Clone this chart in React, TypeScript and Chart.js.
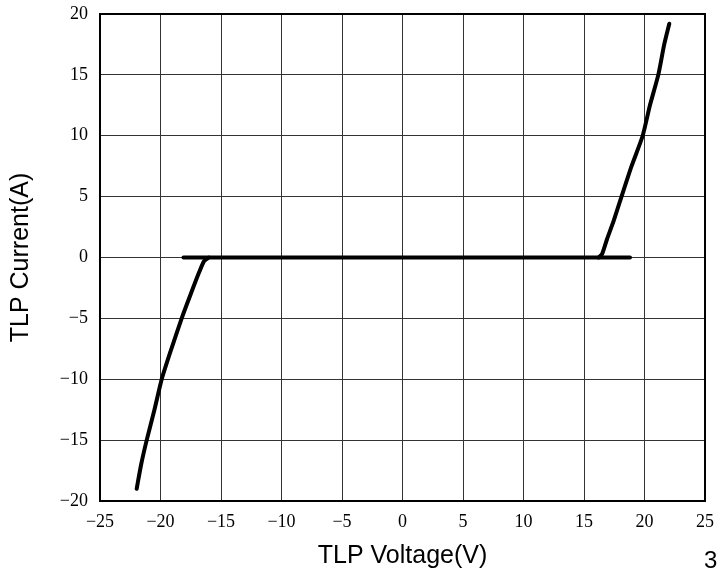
import React, { useEffect, useRef } from "react";
import { Chart, registerables } from "chart.js";

Chart.register(...registerables);

// Flat leakage segment (V, A)
const flatV = [-18.1, -16.0, 0, 16.2, 18.8];
const flatI = [0, 0, 0, 0, 0];

// Negative breakdown branch
const negV = [-16.0, -16.4, -16.8, -17.5, -18.25, -19.1, -19.9, -20.5, -21.14, -21.6, -21.97];
const negI = [0, -0.3, -1.2, -3, -5, -7.5, -10, -12.5, -15, -17, -19];

// Positive breakdown branch
const posV = [16.2, 16.5, 16.9, 17.45, 18.1, 18.93, 19.85, 20.45, 21.14, 21.63, 22.05];
const posI = [0, 0.3, 1.5, 3, 5, 7.5, 10, 12.5, 15, 17.5, 19.2];

const xTitle = "TLP Voltage(V)";
const yTitle = "TLP Current(A)";
const cornerText = "3";

const toPts = (xs: number[], ys: number[]) => xs.map((x, i) => ({ x, y: ys[i] }));
const fmt = (v: number | string) => String(v).replace("-", "\u2212");

const frame = {
  id: "frame",
  afterDraw(chart: any) {
    const { ctx, chartArea: a } = chart;
    ctx.save();
    ctx.strokeStyle = "#000";
    ctx.lineWidth = 2;
    ctx.strokeRect(a.left, a.top, a.right - a.left, a.bottom - a.top);
    ctx.restore();
  },
};

export default function App() {
  const ref = useRef<HTMLCanvasElement>(null);
  useEffect(() => {
    if (!ref.current) return;
    const ds = (xs: number[], ys: number[]) => ({
      data: toPts(xs, ys),
      showLine: true,
      borderColor: "#000",
      backgroundColor: "#000",
      borderWidth: 4,
      pointRadius: 0,
      tension: 0.2,
      borderCapStyle: "round" as const,
      borderJoinStyle: "round" as const,
    });
    const chart = new Chart(ref.current, {
      type: "scatter",
      data: {
        datasets: [ds(flatV, flatI), ds(negV, negI), ds(posV, posI)],
      },
      options: {
        animation: false,
        responsive: false,
        devicePixelRatio: 1,
        layout: { padding: { left: 0, right: 13, top: 14, bottom: 0 } },
        plugins: { legend: { display: false }, tooltip: { enabled: false } },
        scales: {
          x: {
            type: "linear",
            min: -25,
            max: 25,
            afterFit: (s: any) => {
              s.height = 70;
              s.paddingLeft = 0;
              s.paddingRight = 0;
            },
            ticks: {
              stepSize: 5,
              padding: 10,
              color: "#000",
              font: { family: "'Liberation Serif', serif", size: 18 },
              callback: (v: any) => fmt(v),
            },
            grid: { color: "#333", lineWidth: 1, drawTicks: false },
            border: { display: true, color: "#000", width: 2 },
            title: {
              display: true,
              text: xTitle,
              color: "#000",
              font: { family: "'Liberation Sans', Arial, sans-serif", size: 25 },
              padding: { top: 0, bottom: 0 },
            },
          },
          y: {
            type: "linear",
            min: -20,
            max: 20,
            afterFit: (s: any) => {
              s.width = 100;
              s.paddingTop = 0;
              s.paddingBottom = 0;
            },
            ticks: {
              stepSize: 5,
              padding: 12,
              color: "#000",
              font: { family: "'Liberation Serif', serif", size: 18 },
              callback: (v: any) => fmt(v),
            },
            grid: { color: "#333", lineWidth: 1, drawTicks: false },
            border: { display: true, color: "#000", width: 2 },
            title: {
              display: true,
              text: yTitle,
              color: "#000",
              font: { family: "'Liberation Sans', Arial, sans-serif", size: 25 },
              padding: { top: 6, bottom: 0 },
            },
          },
        },
      },
      plugins: [frame],
    });
    return () => chart.destroy();
  }, []);

  return (
    <div style={{ position: "fixed", left: 0, top: 0, width: 718, height: 571, overflow: "hidden", background: "#fff" }}>
      <canvas ref={ref} width={718} height={571} style={{ display: "block" }} />
      <div
        style={{
          position: "absolute",
          left: 704,
          top: 545,
          fontFamily: "'Liberation Sans', Arial, sans-serif",
          fontSize: 24,
          lineHeight: "30px",
          color: "#000",
        }}
      >
        {cornerText}
      </div>
    </div>
  );
}
